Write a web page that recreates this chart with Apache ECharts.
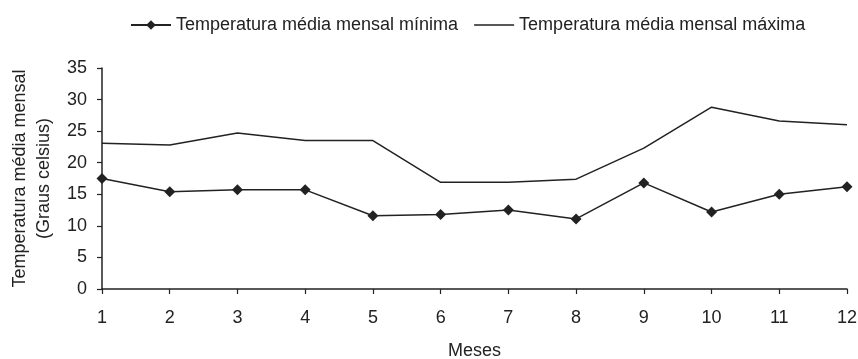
<!DOCTYPE html>
<html>
<head>
<meta charset="utf-8">
<script src="https://cdn.jsdelivr.net/npm/echarts@6/dist/echarts.min.js"></script>
<style>
  html, body { margin: 0; padding: 0; background: #fff; }
  #chart { width: 858px; height: 359px; }
</style>
</head>
<body>
<div id="chart"></div>
<script>
// Months of the year
const months = ['1', '2', '3', '4', '5', '6', '7', '8', '9', '10', '11', '12'];
// Monthly mean minimum temperature (°C)
const tempMin = [17.5, 15.4, 15.7, 15.7, 11.6, 11.8, 12.5, 11.1, 16.8, 12.2, 15.0, 16.2];
// Monthly mean maximum temperature (°C)
const tempMax = [23.1, 22.8, 24.7, 23.5, 23.5, 16.9, 16.9, 17.4, 22.3, 28.8, 26.6, 26.0];
// Y axis ticks
const yTicks = [0, 5, 10, 15, 20, 25, 30, 35];

const seriesNames = ['Temperatura média mensal mínima', 'Temperatura média mensal máxima'];
const font = 'Liberation Sans, Arial, sans-serif';
const ink = '#222';

// Plain line legend icon: a thin bar across the middle, with two specks
// at the corners so the box keeps its full height when scaled.
const plainLineIcon = 'path://M0,0 L0.01,0 L0,0.01 Z M0,5.2 L40,5.2 L40,6.8 L0,6.8 Z M0,12 L0.01,12 L0,11.99 Z';

const chart = echarts.init(document.getElementById('chart'), null, { renderer: 'canvas' });
chart.setOption({
  animation: false,
  textStyle: { fontFamily: font },
  legend: {
    left: 125,
    top: 11,
    itemWidth: 40,
    itemHeight: 12,
    itemGap: 16,
    textStyle: { fontFamily: font, fontSize: 18, color: ink },
    data: [
      { name: seriesNames[0] },
      { name: seriesNames[1], icon: plainLineIcon, itemStyle: { color: ink, borderWidth: 0 } }
    ]
  },
  grid: { left: 102, right: 11, top: 68, bottom: 70, containLabel: false, outerBoundsMode: 'none' },
  xAxis: {
    type: 'category',
    data: months,
    boundaryGap: false,
    name: 'Meses',
    nameLocation: 'middle',
    nameGap: 53,
    nameTextStyle: { fontFamily: font, fontSize: 18, color: ink },
    axisLine: { lineStyle: { color: ink, width: 1.5 } },
    axisTick: { show: true, length: 5, alignWithLabel: true, lineStyle: { color: ink, width: 1.2 } },
    axisLabel: { fontFamily: font, fontSize: 18, color: ink, margin: 20 },
    splitLine: { show: false }
  },
  yAxis: {
    type: 'value',
    min: yTicks[0],
    max: yTicks[yTicks.length - 1],
    interval: yTicks[1] - yTicks[0],
    name: 'Temperatura média mensal\n(Graus celsius)',
    nameLocation: 'middle',
    nameGap: 45,
    nameTextStyle: { fontFamily: font, fontSize: 18, color: ink, lineHeight: 24 },
    axisLine: { show: true, lineStyle: { color: ink, width: 1.5 } },
    axisTick: { show: true, length: 5, lineStyle: { color: ink, width: 1.2 } },
    axisLabel: { fontFamily: font, fontSize: 18, color: ink, margin: 15 },
    splitLine: { show: false }
  },
  series: [
    {
      name: seriesNames[0],
      type: 'line',
      data: tempMin,
      symbol: 'diamond',
      symbolSize: 11,
      itemStyle: { color: ink },
      lineStyle: { color: ink, width: 1.5 }
    },
    {
      name: seriesNames[1],
      type: 'line',
      data: tempMax,
      symbol: 'none',
      itemStyle: { color: ink },
      lineStyle: { color: ink, width: 1.5 }
    }
  ]
});
</script>
</body>
</html>
